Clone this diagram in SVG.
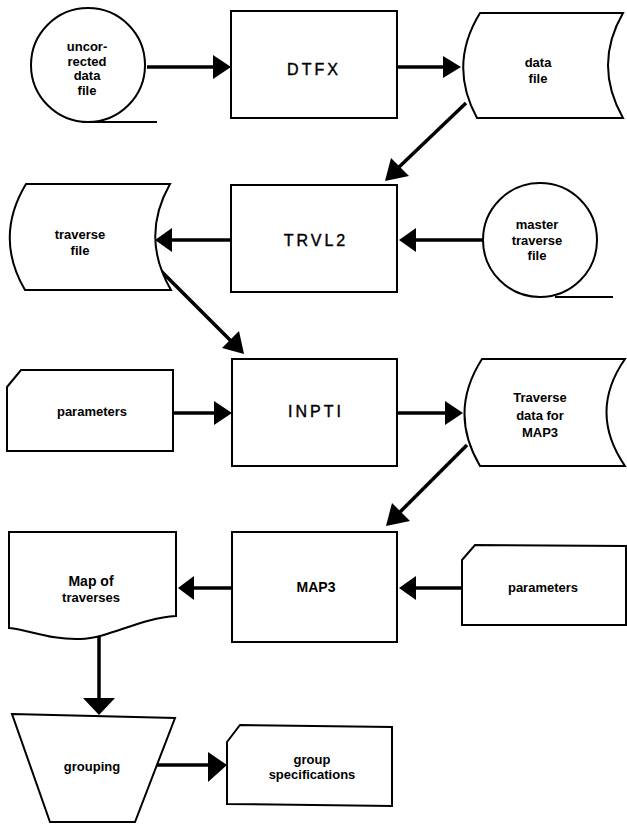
<svg xmlns="http://www.w3.org/2000/svg" width="627" height="824" viewBox="0 0 627 824">
<style>
.s{fill:#fff;stroke:#000;stroke-width:2;stroke-linejoin:miter}
.t{font-family:"Liberation Sans",Arial,sans-serif;font-weight:bold;font-size:13px;fill:#000;text-anchor:middle}
.p{font-family:"Liberation Sans",Arial,sans-serif;font-size:16px;fill:#000;stroke:#000;stroke-width:0.4;text-anchor:middle;letter-spacing:3px}
.c{stroke:#000;stroke-width:3.5;fill:none}
.h{fill:#000;stroke:none}
</style>
<rect width="627" height="824" fill="#fff"/>
<g id="connectors">
<line class="c" x1="147" y1="67" x2="215" y2="67"/><polygon class="h" points="231,67 213,55 213,79"/>
<line class="c" x1="397" y1="67" x2="445" y2="67"/><polygon class="h" points="461,67 443,56 443,78"/>
<line class="c" x1="466" y1="103" x2="398" y2="168"/><polygon class="h" points="385,181 391,158 409,176"/>
<line class="c" x1="483" y1="240" x2="412" y2="240"/><polygon class="h" points="399,240 416,228 416,252"/>
<line class="c" x1="232" y1="240" x2="168" y2="240"/><polygon class="h" points="155,240 172,228 172,252"/>
<line class="c" x1="160" y1="270" x2="231" y2="341"/><polygon class="h" points="244,354 222,348 239,331"/>
<line class="c" x1="173" y1="413" x2="216" y2="413"/><polygon class="h" points="232,413 214,401 214,425"/>
<line class="c" x1="397" y1="413" x2="447" y2="413"/><polygon class="h" points="463,413 445,401 445,425"/>
<line class="c" x1="467" y1="445" x2="399" y2="513"/><polygon class="h" points="386,526 392,503 410,521"/>
<line class="c" x1="462" y1="588" x2="412" y2="588"/><polygon class="h" points="399,588 416,576 416,600"/>
<line class="c" x1="232" y1="588" x2="191" y2="588"/><polygon class="h" points="178,588 194,576 194,600"/>
<line class="c" x1="99" y1="632" x2="99" y2="700"/><polygon class="h" points="99,715 83,698 115,698"/>
<line class="c" x1="157" y1="765" x2="210" y2="765"/><polygon class="h" points="227,765 208,752 208,782"/>
</g>
<g id="uncorrected">
<circle class="s" cx="88" cy="65" r="57"/>
<line x1="82" y1="122" x2="157" y2="122" stroke="#000" stroke-width="2"/>
<text class="t" x="87" y="51">uncor-</text>
<text class="t" x="87" y="66">rected</text>
<text class="t" x="87" y="80">data</text>
<text class="t" x="87" y="95">file</text>
</g>
<g id="dtfx">
<rect class="s" x="231" y="11" width="166" height="107"/>
<text class="p" x="314" y="75">DTFX</text>
</g>
<g id="datafile">
<path class="s" d="M480,13 L623,13 Q593,65 623,118 L477,118 Q448,65 480,13 Z"/>
<text class="t" x="538" y="67">data</text>
<text class="t" x="538" y="83">file</text>
</g>
<g id="trvl2">
<rect class="s" x="231" y="185" width="166" height="107"/>
<text class="p" x="316" y="246">TRVL2</text>
</g>
<g id="traversefile">
<path class="s" d="M26,184 L170,184 Q140,237 171,290 L25,290 Q-6,237 26,184 Z"/>
<text class="t" x="80" y="239">traverse</text>
<text class="t" x="80" y="255">file</text>
</g>
<g id="master">
<circle class="s" cx="540" cy="240" r="57"/>
<line x1="555" y1="297" x2="613" y2="297" stroke="#000" stroke-width="2"/>
<text class="t" x="537" y="229">master</text>
<text class="t" x="537" y="245">traverse</text>
<text class="t" x="537" y="260">file</text>
</g>
<g id="params1">
<path class="s" d="M7,387 L21,370 L173,370 L173,451 L7,451 Z"/>
<text class="t" x="92" y="416">parameters</text>
</g>
<g id="inpti">
<rect class="s" x="232" y="359" width="165" height="107"/>
<text class="p" x="316" y="417">INPTI</text>
</g>
<g id="traversedata">
<path class="s" d="M482,359 L625,359 Q588,412 625,466 L480,466 Q448,412 482,359 Z"/>
<text class="t" x="540" y="402">Traverse</text>
<text class="t" x="540" y="420">data for</text>
<text class="t" x="540" y="437">MAP3</text>
</g>
<g id="map3">
<rect class="s" x="232" y="532" width="165" height="110"/>
<text class="t" x="316" y="592" style="font-size:14px">MAP3</text>
</g>
<g id="params2">
<path class="s" d="M462,560 L475,545 L626,546 L626,625 L462,625 Z"/>
<text class="t" x="543" y="592">parameters</text>
</g>
<g id="mapoftraverses">
<path class="s" d="M9,532 L176,532 L176,616 C140,618 110,638 80,639 C50,640 30,630 9,628 Z"/>
<text class="t" x="91" y="586" style="font-size:14px">Map of</text>
<text class="t" x="91" y="602">traverses</text>
</g>
<g id="grouping">
<path class="s" d="M12,714 L175,718 L135,822 L50,822 Z"/>
<text class="t" x="92" y="771">grouping</text>
</g>
<g id="groupspec">
<path class="s" d="M227,742 L240,725 L392,727 L392,806 L227,804 Z"/>
<text class="t" x="312" y="764">group</text>
<text class="t" x="312" y="779">specifications</text>
</g>
</svg>
